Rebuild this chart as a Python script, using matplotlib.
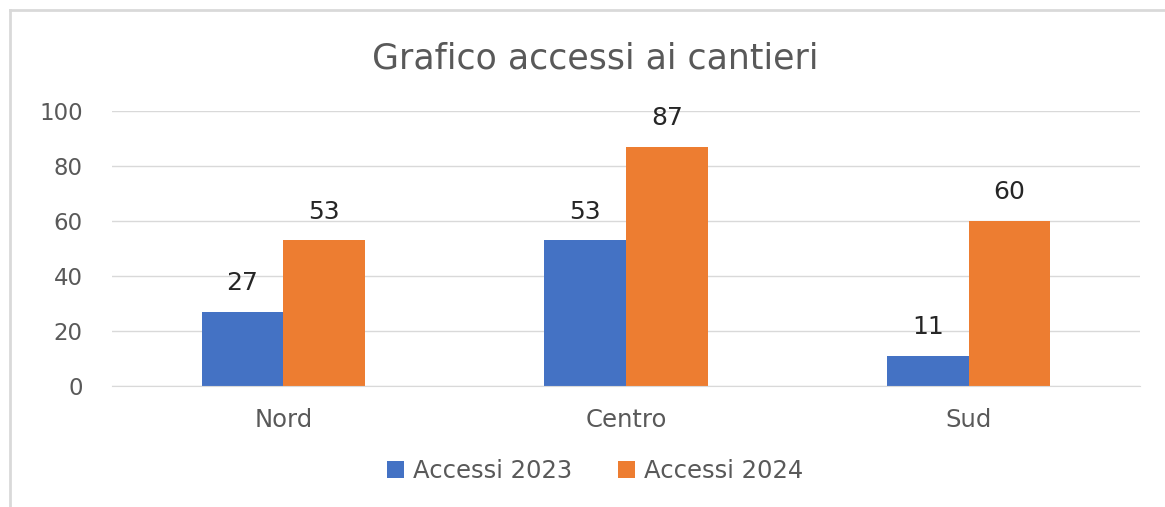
import numpy as np
import matplotlib.pyplot as plt
from matplotlib.lines import Line2D

plt.rcParams['font.family'] = ['DejaVu Sans']

categories = ['Nord', 'Centro', 'Sud']
accessi_2023 = [27, 53, 11]
accessi_2024 = [53, 87, 60]
yticks = [0, 20, 40, 60, 80, 100]

blue = '#4472C4'
orange = '#ED7D31'
gray = '#595959'

fig = plt.figure(figsize=(11.65, 5.07), dpi=100)
ax = fig.add_axes([0.0961, 0.2387, 0.8824, 0.5423])

x = np.arange(len(categories))
w = 0.238
b1 = ax.bar(x - w / 2, accessi_2023, w, color=blue, label='Accessi 2023')
b2 = ax.bar(x + w / 2, accessi_2024, w, color=orange, label='Accessi 2024')

for bars in (b1, b2):
    for rect in bars:
        h = rect.get_height()
        ax.annotate(f'{h:g}', (rect.get_x() + rect.get_width() / 2, h),
                    xytext=(0, 12), textcoords='offset points',
                    ha='center', va='bottom', fontsize=18, color='#262626')

ax.set_xlim(-0.5, 2.5)
ax.set_ylim(0, 100)
ax.set_yticks(yticks)
ax.set_xticks(x, categories)
ax.yaxis.grid(True, color='#d9d9d9', linewidth=1)
ax.set_axisbelow(True)
for s in ax.spines.values():
    s.set_visible(False)
ax.spines['bottom'].set_visible(True)
ax.spines['bottom'].set_color('#d9d9d9')
ax.tick_params(axis='y', length=0, labelsize=16.5, colors=gray, pad=21)
ax.tick_params(axis='x', length=0, labelsize=17.5, colors=gray, pad=16)

fig.text(0.511, 0.885, 'Grafico accessi ai cantieri', ha='center', va='center',
         fontsize=25, color=gray)

leg = fig.legend(handles=[b1, b2], loc='center', bbox_to_anchor=(0.511, 0.071),
                 ncol=2, frameon=False, fontsize=17.5, handlelength=0.7,
                 handleheight=0.7, handletextpad=0.35, columnspacing=1.9)
for t in leg.get_texts():
    t.set_color(gray)

# chart border (left and top edges visible in the screenshot)
fig.add_artist(Line2D([10 / 1165, 10 / 1165], [0, 1 - 10 / 507],
                      transform=fig.transFigure, color='#d9d9d9', linewidth=2))
fig.add_artist(Line2D([10 / 1165, 1], [1 - 10 / 507, 1 - 10 / 507],
                      transform=fig.transFigure, color='#d9d9d9', linewidth=2))

fig.savefig('out.png', dpi=100)
